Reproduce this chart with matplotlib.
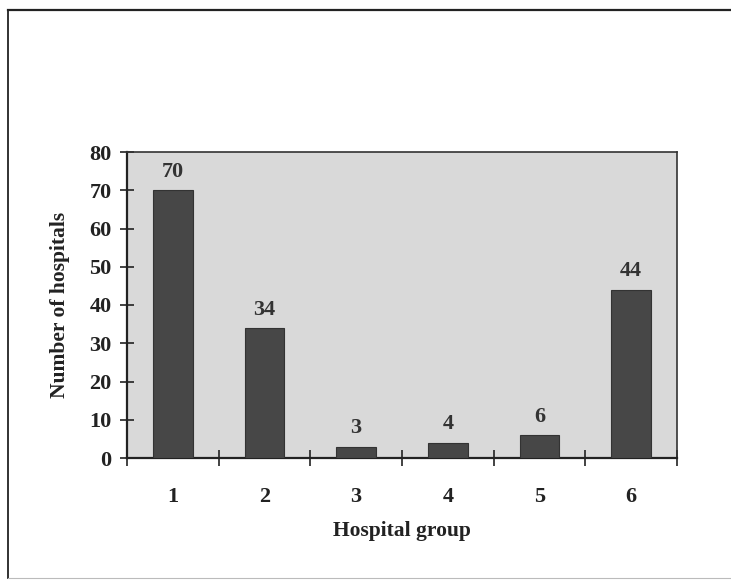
import numpy as np
import matplotlib.pyplot as plt
from matplotlib.lines import Line2D

groups = [1, 2, 3, 4, 5, 6]
hospitals = [70, 34, 3, 4, 6, 44]
y_ticks = [0, 10, 20, 30, 40, 50, 60, 70, 80]

plt.rcParams['font.family'] = 'Liberation Serif'
plt.rcParams['font.weight'] = 'bold'

fig = plt.figure(figsize=(7.31, 5.82), dpi=100)

# frame around the whole figure (left and top are the strong edges)
fig.add_artist(Line2D([8 / 731, 8 / 731], [1 - 10 / 582, 1 - 578 / 582],
                      transform=fig.transFigure, color='#222222', lw=1.3))
fig.add_artist(Line2D([8 / 731, 1.0], [1 - 10 / 582, 1 - 10 / 582],
                      transform=fig.transFigure, color='#222222', lw=1.6))
fig.add_artist(Line2D([8 / 731, 1.0], [1 - 578 / 582, 1 - 578 / 582],
                      transform=fig.transFigure, color='#bbbbbb', lw=0.8))

ax = fig.add_axes([127 / 731, 1 - 458 / 582, 550 / 731, 306 / 582])
ax.set_facecolor('#d9d9d9')

ax.bar(groups, hospitals, width=0.43, color='#474747',
       edgecolor='#333333', linewidth=0.8, zorder=3)
for x, v in zip(groups, hospitals):
    ax.annotate(str(v), (x, v), xytext=(0, 6), textcoords='offset points',
                ha='center', va='bottom', fontsize=16, fontweight='bold',
                color='#333333')

ax.set_xlim(0.5, 6.5)
ax.set_ylim(0, 80)
ax.set_yticks(y_ticks)

# group boundaries carry the tick marks, numbers sit in the middle
ax.set_xticks(np.arange(0.5, 7.0, 1.0))
ax.set_xticklabels([])
ax.set_xticks(groups, minor=True)
ax.set_xticklabels([str(g) for g in groups], minor=True)
ax.tick_params(axis='x', which='major', direction='inout', length=12, width=1.2,
               color='#222222')
ax.tick_params(axis='x', which='minor', length=0, pad=21, labelsize=16,
               labelcolor='#222222')
ax.tick_params(axis='y', direction='inout', length=10, width=1.2, pad=6,
               labelsize=16, color='#222222', labelcolor='#222222')

for side in ['left', 'bottom']:
    ax.spines[side].set_linewidth(1.6)
    ax.spines[side].set_color('#222222')
for side in ['top', 'right']:
    ax.spines[side].set_linewidth(1.2)
    ax.spines[side].set_color('#333333')

ax.set_xlabel('Hospital group', fontsize=15.5, fontweight='bold', labelpad=10,
              color='#222222')
ax.set_ylabel('Number of hospitals', fontsize=15.5, fontweight='bold',
              labelpad=14, color='#222222')

fig.savefig('out.png', dpi=100)
